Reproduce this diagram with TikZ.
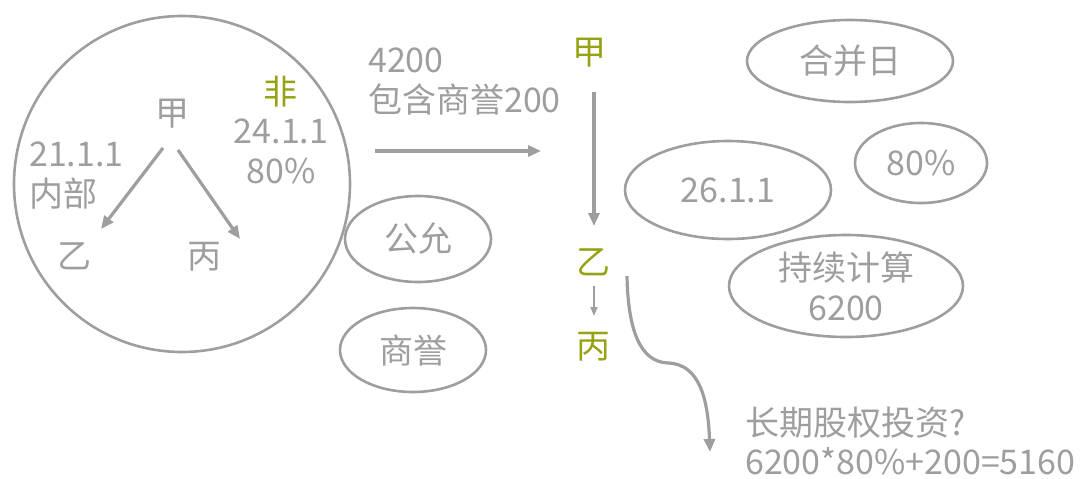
\documentclass[tikz,border=0pt]{standalone}
\usepackage{fontspec}
\setmainfont{Noto Sans CJK SC}
\usetikzlibrary{arrows.meta,shapes.geometric}
\definecolor{tgray}{RGB}{158,158,158}
\definecolor{olive}{RGB}{150,162,18}
\tikzset{
  lbl/.style={text=tgray,font=\fontsize{34}{40}\selectfont,inner sep=0pt,align=center},
  olbl/.style={lbl,text=olive},
  oval/.style={ellipse,draw=tgray,line width=2.6pt,inner sep=0pt},
  arr/.style={draw=tgray,line width=3.2pt,-{Triangle[length=13pt,width=11pt]}},
  sarr/.style={draw=tgray,line width=1.8pt,-{Triangle[length=9pt,width=7pt]}}
}
\begin{document}
\begin{tikzpicture}[x=1pt,y=-1pt]
\useasboundingbox (0,0) rectangle (1085,479);
% big circle
\node[circle,draw=tgray,line width=2.6pt,minimum size=336pt,inner sep=0pt] (big) at (182,184) {};
\node[lbl] (jia1) at (172,114) {甲};
\node[olbl] (fei) at (280,92) {非};
\node[lbl] (d24) at (281,151) {24.1.1\\80\%};
\node[lbl,align=left,anchor=west] (d21) at (29,176) {21.1.1\\内部};
\node[lbl] (yi1) at (74,256) {乙};
\node[lbl] (bing1) at (204,257) {丙};
\coordinate (a1s) at (163,148);
\coordinate (a1e) at (101,229);
\coordinate (a2s) at (178,150);
\coordinate (a2e) at (240,239);
\draw[arr] (a1s) -- (a1e);
\draw[arr] (a2s) -- (a2e);
% middle
\node[lbl,align=left,anchor=west] (t4200) at (368,82) {4200\\包含商誉200};
\coordinate (hs) at (375,151);
\coordinate (he) at (541,151);
\draw[arr] (hs) -- (he);
\node[oval,minimum width=146pt,minimum height=86pt] (gy) at (418,239) {};
\node[lbl] at (gy) {公允};
\node[oval,minimum width=146pt,minimum height=84pt] (sy) at (413,350) {};
\node[lbl] at (sy) {商誉};
% chain
\node[olbl] (jia2) at (589,53) {甲};
\node[olbl] (yi2) at (593,262) {乙};
\node[olbl] (bing2) at (593,347) {丙};
\coordinate (vs) at (594,92);
\coordinate (ve) at (594,226);
\draw[arr] (vs) -- (ve);
\coordinate (ss) at (594,286);
\coordinate (se) at (594,316);
\draw[sarr] (ss) -- (se);
% curve
\coordinate (cs) at (627,276);
\coordinate (cm) at (668,363);
\coordinate (ce) at (710,452);
\draw[arr] (cs) .. controls (628,330) and (640,362) .. (cm) .. controls (700,364) and (708,400) .. (ce);
% right ellipses
\node[oval,minimum width=206pt,minimum height=82pt] (hb) at (850,61) {};
\node[lbl] at (hb) {合并日};
\node[oval,minimum width=132pt,minimum height=80pt] (p80) at (921,163) {};
\node[lbl] at (p80) {80\%};
\node[oval,minimum width=206pt,minimum height=98pt] (d26) at (728,190) {};
\node[lbl] at (d26) {26.1.1};
\node[oval,minimum width=234pt,minimum height=102pt] (cx) at (846,286) {};
\node[lbl] at (cx) {持续计算\\6200};
\node[lbl,align=left,anchor=west,font=\fontsize{34}{39}\selectfont] (res) at (745,441) {长期股权投资?\\6200*80\%+200=5160};
\end{tikzpicture}
\end{document}
